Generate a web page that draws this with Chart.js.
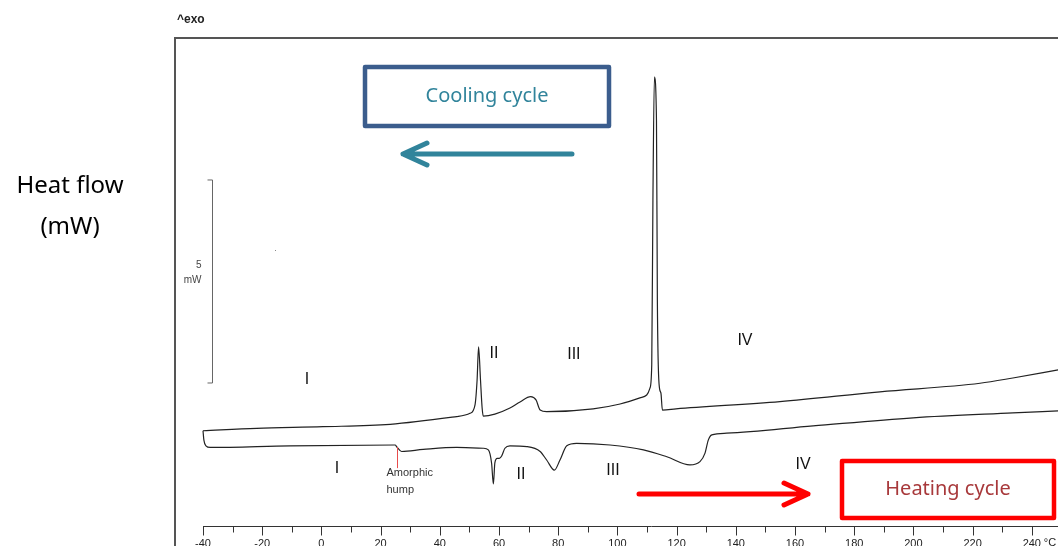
<!DOCTYPE html>
<html lang="en">
<head>
    <meta charset="UTF-8">
    <title>DSC heat flow - cooling and heating cycle</title>
    <script src="https://cdn.jsdelivr.net/npm/chart.js"></script>
    <style>
        body {
            margin: 0;
            padding: 0;
            background: #fff;
            overflow: hidden;
        }
        canvas {
            display: block;
        }
    </style>
</head>
<body>
    <canvas id="dscChart" width="1100" height="580"></canvas>

    <script>
        // temperature (°C) and heat flow (mW, arbitrary offset)
        const COOL_T = [-40, -21.9, 0.5, 23.2, 45.7, 50.2, 51.9, 52.6, 53.1, 53.75, 54.3, 54.7, 58.6, 63.7, 67.1, 70.7, 72.5, 73.9, 76.1, 91.8,
            100.9, 107.6, 109.9, 111.0, 111.6, 112.0, 112.5, 113.2, 113.5, 114.1, 114.7, 115.2, 119.8, 154.9, 188.7, 222.5, 233.6, 248.9];
        const COOL_HF = [2.37, 2.43, 2.47, 2.53, 2.72, 2.80, 3.01, 3.62, 4.44, 3.62, 2.93, 2.73, 2.78, 2.93, 3.08, 3.21, 3.13, 2.88, 2.84, 2.91,
            3.03, 3.18, 3.25, 3.42, 3.99, 8.05, 11.08, 10.02, 5.59, 3.50, 3.30, 2.88, 2.91, 3.09, 3.33, 3.54, 3.67, 3.87];

        const HEAT_T = [-40, -39.7, -39.0, -37.6, -10.6, 24.9, 25.5, 27.1, 34.4, 45.7, 54.7, 56.4, 57.5, 58.1, 58.6, 59.4, 60.1, 60.9, 62.0, 63.7,
            69.4, 73.9, 76.1, 78.7, 80.6, 82.9, 86.2, 97.5, 108.8, 116.7, 124.5, 127.9, 129.6, 130.7, 131.9, 136.9, 166.1, 199.9, 233.6, 248.9];
        const HEAT_HF = [2.37, 2.14, 2.00, 1.96, 2.00, 2.02, 1.97, 1.86, 1.91, 1.96, 1.94, 1.90, 1.57, 1.06, 1.58, 1.69, 1.69, 1.75, 1.94, 2.00,
            1.98, 1.86, 1.65, 1.40, 1.65, 2.00, 2.06, 2.02, 1.90, 1.73, 1.53, 1.61, 1.82, 2.14, 2.27, 2.31, 2.49, 2.69, 2.81, 2.86];

        const X_TICKS = [-40, -30, -20, -10, 0, 10, 20, 30, 40, 50, 60, 70, 80, 90, 100, 110, 120,
            130, 140, 150, 160, 170, 180, 190, 200, 210, 220, 230, 240, 250];
        const X_LABEL_STEP = 20;
        const X_UNIT = '°C';

        // region labels: [text, T, HF]
        const COOL_REGIONS = [['I', -4.9, 3.62], ['II', 58.3, 4.26], ['III', 85.3, 4.24], ['IV', 143.1, 4.58]];
        const HEAT_REGIONS = [['I', 5.3, 1.43], ['II', 67.4, 1.28], ['III', 98.5, 1.38], ['IV', 162.7, 1.53]];
        const HUMP_T = 25.5;
        const SCALE_BAR_MW = 5;

        const toPoints = (xs, ys) => xs.map((t, i) => ({ x: t, y: ys[i] }));

        function arrow(ctx, x1, x2, y, color) {
            const dir = x2 > x1 ? 1 : -1;
            ctx.strokeStyle = color;
            ctx.lineWidth = 5;
            ctx.lineCap = 'round';
            ctx.lineJoin = 'round';
            ctx.beginPath();
            ctx.moveTo(x1, y);
            ctx.lineTo(x2, y);
            ctx.moveTo(x2 - dir * 24, y - 11);
            ctx.lineTo(x2, y);
            ctx.lineTo(x2 - dir * 24, y + 11);
            ctx.stroke();
            ctx.lineCap = 'butt';
        }

        function box(ctx, x, y, w, h, border, text, color) {
            ctx.strokeStyle = border;
            ctx.lineWidth = 4.5;
            ctx.lineJoin = 'round';
            ctx.strokeRect(x, y, w, h);
            ctx.fillStyle = color;
            ctx.font = '20px "Noto Sans"';
            ctx.textAlign = 'center';
            ctx.textBaseline = 'middle';
            ctx.fillText(text, x + w / 2, y + h / 2);
        }

        const decor = {
            id: 'decor',
            afterDraw(chart) {
                const { ctx, chartArea: a, scales: { x, y } } = chart;
                ctx.save();

                // frame
                ctx.strokeStyle = '#555';
                ctx.lineWidth = 2;
                ctx.beginPath();
                ctx.moveTo(a.left, chart.height);
                ctx.lineTo(a.left, a.top);
                ctx.lineTo(chart.width, a.top);
                ctx.stroke();

                // temperature ruler
                const ay = Math.round(a.bottom) - 0.5;
                ctx.strokeStyle = '#333';
                ctx.lineWidth = 1;
                ctx.beginPath();
                ctx.moveTo(x.getPixelForValue(X_TICKS[0]), ay);
                ctx.lineTo(chart.width, ay);
                X_TICKS.forEach(v => {
                    const px = Math.round(x.getPixelForValue(v)) + 0.5;
                    ctx.moveTo(px, ay);
                    ctx.lineTo(px, ay + (v % X_LABEL_STEP === 0 ? 9 : 6));
                });
                ctx.stroke();
                ctx.fillStyle = '#222';
                ctx.font = '11px "Liberation Sans"';
                ctx.textAlign = 'left';
                ctx.textBaseline = 'top';
                ctx.fillText(X_UNIT, x.getPixelForValue(240) + 12, a.bottom + 10);

                // ^exo
                ctx.font = 'bold 12px "Liberation Sans"';
                ctx.textBaseline = 'middle';
                ctx.fillText('^exo', a.left + 2, 20);

                // 5 mW scale bar
                const bx = Math.round(x.getPixelForValue(-37)) + 0.5;
                const b0 = y.getPixelForValue(3.547), b1 = y.getPixelForValue(3.547 + SCALE_BAR_MW);
                ctx.strokeStyle = '#666';
                ctx.beginPath();
                ctx.moveTo(bx - 5, b1); ctx.lineTo(bx, b1); ctx.lineTo(bx, b0); ctx.lineTo(bx - 5, b0);
                ctx.stroke();
                ctx.fillStyle = '#444';
                ctx.font = '10px "Liberation Sans"';
                ctx.textAlign = 'right';
                ctx.fillText(String(SCALE_BAR_MW), bx - 11, (b0 + b1) / 2 - 16);
                ctx.fillText('mW', bx - 11, (b0 + b1) / 2 - 1);
                ctx.fillStyle = '#888';
                ctx.fillRect(275, 250, 1, 1);

                // region numerals
                ctx.fillStyle = '#111';
                ctx.font = '16px "Liberation Sans"';
                ctx.textAlign = 'center';
                COOL_REGIONS.concat(HEAT_REGIONS).forEach(([t, tx, hf]) => {
                    ctx.fillText(t, x.getPixelForValue(tx), y.getPixelForValue(hf));
                });

                // amorphic hump marker
                const hx = Math.round(x.getPixelForValue(HUMP_T)) + 0.5;
                ctx.strokeStyle = '#e84c4c';
                ctx.beginPath();
                ctx.moveTo(hx, y.getPixelForValue(1.97));
                ctx.lineTo(hx, y.getPixelForValue(1.45));
                ctx.stroke();
                ctx.fillStyle = '#333';
                ctx.font = '11px "Liberation Sans"';
                ctx.textAlign = 'left';
                ctx.fillText('Amorphic', hx - 11, y.getPixelForValue(1.33));
                ctx.fillText('hump', hx - 11, y.getPixelForValue(0.91));

                // y label
                ctx.fillStyle = '#000';
                ctx.font = '24px "Noto Sans"';
                ctx.textAlign = 'center';
                ctx.fillText('Heat flow', 70, 186);
                ctx.fillText('(mW)', 70, 227);

                // annotations
                box(ctx, 365, 67, 244, 59, '#3b5d8d', 'Cooling cycle', '#31849b');
                arrow(ctx, 572, 403, 154, '#31849b');
                box(ctx, 842, 461, 212, 57, '#ff0000', 'Heating cycle', '#a8393b');
                arrow(ctx, 639, 808, 494, '#ff0000');

                ctx.restore();
            }
        };

        new Chart(document.getElementById('dscChart'), {
            type: 'scatter',
            data: {
                datasets: [
                    { label: 'Cooling', data: toPoints(COOL_T, COOL_HF) },
                    { label: 'Heating', data: toPoints(HEAT_T, HEAT_HF) }
                ]
            },
            options: {
                responsive: false,
                animation: false,
                devicePixelRatio: 1,
                layout: { padding: { left: 175, top: 38, right: 0, bottom: 0 } },
                elements: {
                    point: { radius: 0 },
                    line: { borderColor: '#222', borderWidth: 1.2, cubicInterpolationMode: 'monotone' }
                },
                datasets: { scatter: { showLine: true } },
                plugins: { legend: { display: false }, tooltip: { enabled: false } },
                scales: {
                    x: {
                        type: 'linear',
                        min: -49.46,
                        max: 263.04,
                        afterBuildTicks: s => { s.ticks = X_TICKS.map(v => ({ value: v })); },
                        afterFit: s => { s.height = 53; },
                        grid: { display: false, drawTicks: false },
                        border: { display: false },
                        ticks: {
                            padding: 10,
                            color: '#222',
                            font: { family: 'Liberation Sans', size: 11 },
                            maxRotation: 0,
                            autoSkip: false,
                            callback: v => (v % X_LABEL_STEP === 0 && v <= 240 ? String(v) : '')
                        }
                    },
                    y: {
                        display: false,
                        min: 0,
                        max: 12.044
                    }
                }
            },
            plugins: [decor]
        });
    </script>
</body>
</html>
